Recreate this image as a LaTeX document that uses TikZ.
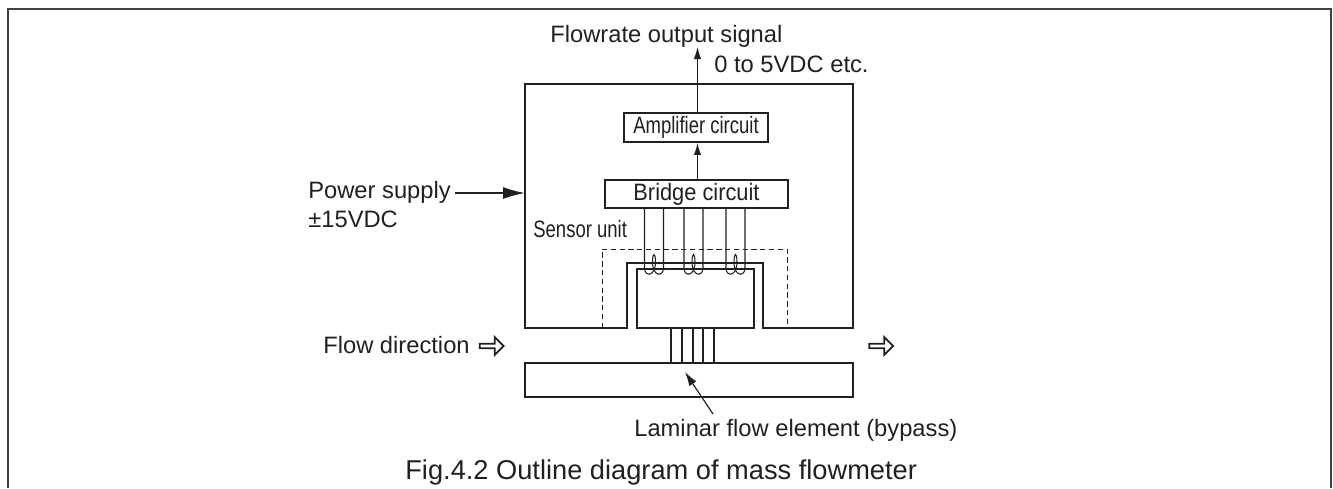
\documentclass[tikz,border=0pt]{standalone}
\usepackage{fontspec}
\setmainfont{Liberation Sans}
\newfontfamily\narrowfont[FakeStretch=0.78]{Liberation Sans}
\newfontfamily\bridgefont[FakeStretch=0.92]{Liberation Sans}
\usetikzlibrary{arrows.meta}
\usetikzlibrary{shapes.arrows}
\definecolor{Col1}{RGB}{35,31,32}
\tikzstyle{Wall}=[draw=Col1,line width=1.1pt]
\tikzstyle{Wire}=[draw=Col1,line width=0.6pt]
\tikzstyle{Signal}=[draw=Col1,line width=0.7pt,-{Latex[length=2.4mm,width=1.5mm]}]
\tikzstyle{Block}=[rectangle,draw=Col1,line width=1.1pt,inner sep=0pt,text=Col1]
\tikzstyle{Label}=[text=Col1,inner sep=0pt,anchor=base west,font=\fontsize{13.5}{16}\selectfont]
\tikzstyle{Hollow}=[single arrow,draw=Col1,line width=1pt,inner sep=0pt,minimum height=0.48cm,
minimum width=0.36cm,single arrow head extend=0.05cm,shape border rotate=0]
\begin{document}
\begin{tikzpicture}[x=0.02cm,y=-0.02cm]
        \useasboundingbox(0,0)rectangle(1333,488);
        % frame
        \coordinate(fa)at(8,488);
        \coordinate(fb)at(8,9);
        \coordinate(fc)at(1331,9);
        \coordinate(fd)at(1331,488);
        \draw[draw=Col1!85,line width=1pt](fa)--(fb)--(fc)--(fd);
        % sensor unit
        \draw[Wall](525,84)--(853,84)--(853,328)--(763,328)--(763,263)--(627,263)
            --(627,328)--(525,328)--cycle;
        \draw[Wire,line width=0.5pt,dash pattern=on 3pt off 2pt](602,328)--(602,249)--(787,249)--(787,328);
        \draw[Wall](637,269)rectangle(754,328);
        \draw[Wall](525,363)rectangle(853,397);
        % blocks
        \node[Block,minimum width=3.66cm,minimum height=0.56cm,
            font=\bridgefont\fontsize{13.5}{16}\selectfont](bridge)at(696.5,194){Bridge circuit};
        \node[Block,minimum width=2.88cm,minimum height=0.58cm,
            font=\narrowfont\fontsize{13.5}{16}\selectfont](amp)at(696,127.5){Amplifier circuit};
        \coordinate(out)at(697.5,47);
        \draw[Signal](amp.north-|out)--(out);
        \draw[Signal](bridge.north-|out)--(amp.south-|out);
        % power supply
        \node[Label](power)at(308,198){Power supply};
        \node[Label](volt)at(308,227){±15VDC};
        \coordinate(unit)at(525,193);
        \coordinate(feed)at(455,193);
        \draw[Signal,line width=0.9pt,-{Latex[length=4.4mm,width=2.4mm]}](feed)--(unit);
        % labels
        \node[Label](flowout)at(550,42){Flowrate output signal};
        \node[Label](range)at(714,72){0 to 5VDC etc.};
        \node[Label,font=\narrowfont\fontsize{13.5}{16}\selectfont](sensor)at(533,237){Sensor unit};
        \node[Label](dir)at(323,353){Flow direction};
        \node[Hollow](dirin)at(490.5,346){};
        \node[Hollow](dirout)at(880,346){};
        \node[Label](laminar)at(634,436){Laminar flow element (bypass)};
        \node[Label,font=\fontsize{15.5}{18}\selectfont](caption)at(405,479){Fig.4.2 Outline diagram of mass flowmeter};
        \coordinate(lama)at(713,414);
        \coordinate(lamb)at(685,372);
        \draw[Signal,-{Latex[length=2.8mm,width=1.7mm]}](lama)--(lamb);
        % laminar element
        \foreach \x in {671,682,693,703,714}{
            \draw[Wall](\x,328)--(\x,363);
        }
        % wires
        \foreach \x in {644.5,684,726}{
            \draw[Wire](\x,208)--(\x,268) .. controls (\x,277) and (\x+11,277) .. (\x+11,262)
                .. controls (\x+11,252) and (\x+8,252) .. (\x+8,262)
                .. controls (\x+8,277) and (\x+19,277) .. (\x+19,268)--(\x+19,208);
        }
\end{tikzpicture}
\end{document}
